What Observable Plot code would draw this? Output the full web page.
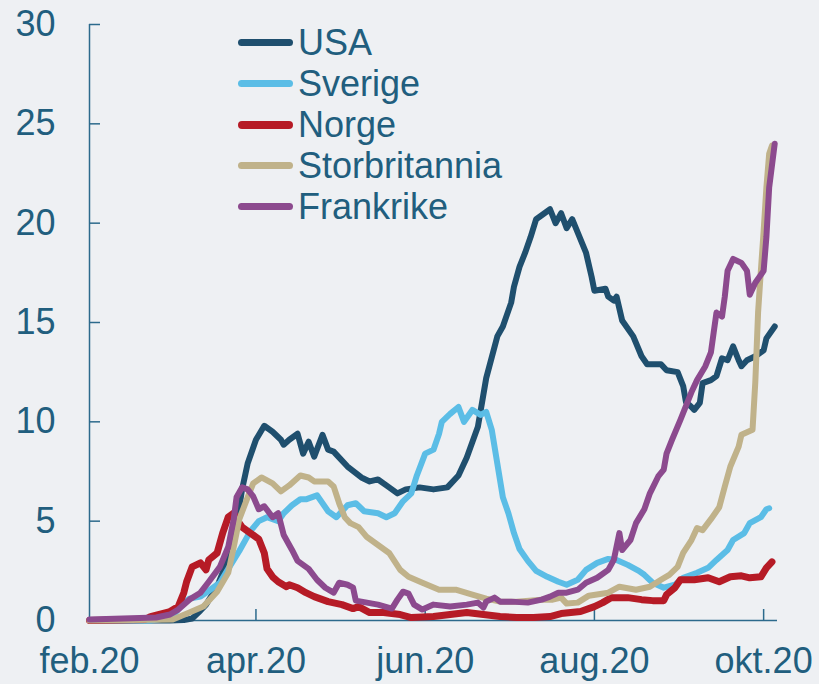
<!DOCTYPE html>
<html>
<head>
<meta charset="utf-8">
<script src="https://cdn.jsdelivr.net/npm/d3@7"></script>
<script src="https://cdn.jsdelivr.net/npm/@observablehq/plot@0.6"></script>
<style>
  html, body { margin: 0; padding: 0; background: #eef0f3; }
  #wrap { position: relative; width: 819px; height: 684px; font-family: "Liberation Sans", Arial, sans-serif; }
  #legend { position: absolute; left: 238px; top: 22px; }
  .row { display: flex; align-items: center; height: 41px; }
  .sw { width: 55px; height: 7px; border-radius: 4px; margin-right: 5px; }
  .lab { font-size: 36px; color: #215e7e; line-height: 41px; white-space: nowrap; }
</style>
</head>
<body>
<div id="wrap"><div id="chart"></div><div id="legend"></div></div>
<script>
// days since 1 Feb 2020, value
const usa = [[0,0],[29,0],[34,0.02],[37,0.1],[40,0.5],[42,0.8],[46,1.7],[50,3.1],[53,4.8],[55,6.6],[57,7.9],[60,9.1],[63,9.8],[66,9.5],[69,9.1],[70,8.85],[72,9.1],[75,9.4],[77,8.4],[79,9.0],[81,8.25],[84,9.35],[86,8.6],[88,8.5],[93,7.75],[98,7.2],[101,7.0],[104,7.1],[107,6.8],[111,6.4],[114,6.6],[119,6.7],[124,6.6],[129,6.7],[133,7.3],[136,8.2],[140,9.75],[143,12.2],[147,14.3],[149,14.8],[152,16.0],[153,16.8],[155,17.8],[157,18.5],[159,19.3],[161,20.2],[164,20.5],[166,20.7],[168,20.0],[170,20.5],[172,19.75],[174,20.2],[179,18.5],[181,17.3],[182,16.6],[186,16.7],[187,16.3],[189,16.1],[190,16.3],[192,15.1],[196,14.3],[199,13.3],[201,12.9],[206,12.9],[208,12.6],[212,12.5],[214,11.8],[215,11.0],[217,10.75],[218,10.6],[220,10.95],[221,11.95],[224,12.1],[226,12.3],[228,13.2],[230,13.1],[232,13.8],[234,13.1],[235,12.8],[237,13.1],[240,13.3],[243,13.6],[244,14.2],[247,14.8]];
const sverige = [[0,0],[22,0],[27,0.1],[31,0.4],[34,0.9],[36,1.1],[40,1.2],[43,1.5],[47,1.9],[50,2.6],[54,3.5],[58,4.5],[61,5.0],[64,5.2],[68,5.0],[70,5.4],[73,5.8],[76,6.1],[78,6.1],[82,6.3],[86,5.5],[89,5.2],[93,5.8],[96,5.9],[99,5.5],[104,5.4],[107,5.2],[110,5.4],[113,6.0],[116,6.4],[118,7.3],[121,8.4],[124,8.6],[126,9.4],[127,10.0],[130,10.4],[133,10.75],[135,10.0],[138,10.6],[141,10.35],[143,10.5],[145,9.6],[147,7.9],[149,6.2],[151,5.4],[153,4.4],[155,3.6],[158,3.0],[161,2.5],[165,2.2],[169,1.95],[172,1.8],[176,2.05],[179,2.55],[183,2.9],[187,3.1],[190,3.05],[194,2.8],[198,2.5],[200,2.3],[203,1.9],[207,1.65],[211,1.8],[214,2.15],[219,2.4],[223,2.65],[226,3.05],[230,3.55],[232,4.05],[236,4.4],[238,4.9],[242,5.2],[244,5.6],[245,5.65]];
const norge = [[0,0],[20,0.05],[22,0.2],[29,0.45],[32,0.7],[34,1.4],[35,1.95],[37,2.7],[40,2.9],[42,2.55],[43,3.05],[46,3.4],[48,4.4],[50,5.2],[52,5.4],[53,5.1],[55,4.7],[58,4.4],[61,4.1],[63,3.4],[64,2.6],[66,2.2],[68,1.95],[71,1.7],[72,1.8],[75,1.65],[78,1.4],[81,1.2],[86,0.95],[91,0.8],[95,0.6],[97,0.7],[101,0.4],[106,0.4],[112,0.3],[116,0.15],[124,0.2],[130,0.3],[136,0.4],[142,0.3],[148,0.2],[154,0.15],[160,0.15],[166,0.2],[170,0.35],[177,0.45],[182,0.7],[185,0.9],[188,1.15],[194,1.15],[199,1.05],[203,1.0],[207,1.0],[208,1.3],[211,1.65],[213,2.05],[218,2.05],[223,2.15],[227,1.95],[231,2.2],[235,2.25],[238,2.15],[242,2.2],[244,2.65],[246,2.95]];
const storbritannia = [[0,0],[30,0.05],[36,0.4],[41,0.7],[46,1.45],[50,2.4],[52,3.7],[54,5.1],[57,6.2],[59,6.9],[62,7.2],[66,6.9],[69,6.5],[72,6.8],[76,7.3],[79,7.2],[81,7.0],[86,7.0],[88,6.75],[90,5.9],[92,5.2],[94,4.9],[97,4.7],[100,4.2],[105,3.7],[108,3.4],[112,2.55],[115,2.2],[120,1.9],[126,1.55],[132,1.55],[138,1.3],[143,1.1],[148,0.95],[154,0.95],[163,1.05],[167,1.05],[170,1.15],[172,0.85],[176,0.9],[180,1.25],[187,1.4],[191,1.7],[197,1.55],[202,1.7],[206,2.05],[209,2.3],[212,2.7],[214,3.4],[217,4.05],[219,4.65],[221,4.55],[224,5.1],[227,5.7],[229,6.75],[231,7.75],[234,8.75],[235,9.35],[239,9.6],[240,12.0],[241,15.5],[242,17.6],[243,19.6],[244,21.8],[245,23.5],[246,23.9]];
const frankrike = [[0,0.05],[24,0.15],[29,0.3],[32,0.55],[36,1.05],[40,1.4],[43,1.95],[47,2.7],[50,3.7],[52,5.1],[53,6.2],[55,6.7],[57,6.6],[59,6.25],[61,5.6],[63,5.75],[66,5.2],[68,5.4],[70,4.3],[73,3.55],[75,3.0],[77,2.8],[79,2.6],[82,2.05],[85,1.65],[88,1.4],[90,1.9],[93,1.8],[95,1.65],[96,1.0],[100,0.9],[104,0.8],[109,0.6],[111,1.05],[113,1.45],[115,1.35],[117,0.8],[120,0.55],[124,0.8],[130,0.7],[136,0.8],[140,0.9],[142,0.65],[143,0.95],[146,1.15],[148,0.95],[152,0.95],[158,0.9],[163,1.05],[166,1.2],[169,1.4],[172,1.4],[176,1.55],[179,1.9],[183,2.15],[187,2.55],[189,3.05],[191,4.4],[192,3.55],[195,4.05],[197,4.9],[200,5.6],[202,6.4],[205,7.25],[207,7.6],[208,8.4],[210,9.1],[213,10.1],[217,11.5],[219,12.1],[222,12.8],[224,13.5],[225,14.5],[226,15.5],[228,15.3],[229,16.3],[230,17.6],[232,18.2],[235,18.0],[237,17.6],[238,16.4],[240,17.0],[243,17.6],[244,19.3],[245,21.8],[247,24.0]];

const seriesNames = ["USA", "Sverige", "Norge", "Storbritannia", "Frankrike"];
const seriesColors = ["#1f4f6e", "#5bbde6", "#b61b26", "#c0b28a", "#8c4a8e"];
const seriesData = [usa, sverige, norge, storbritannia, frankrike];
const seriesWidths = [6, 6, 7, 6, 6];

const yTicks = [0, 5, 10, 15, 20, 25, 30];
const xTickDates = ["2020-02-01", "2020-04-01", "2020-06-01", "2020-08-01", "2020-10-01"];
const xTickLabels = ["feb.20", "apr.20", "jun.20", "aug.20", "okt.20"];

const startDate = new Date("2020-02-01");
const endDate = new Date("2020-10-06");
const DAY = 864e5;

const W = 819, H = 684, mL = 89, mR = 42, mT = 24, mB = 64;
const plotW = W - mL - mR, plotH = H - mT - mB;
const axisColor = "#2c6a8c";
const textColor = "#215e7e";

const xTicks = xTickDates.map(d => new Date(d));
const labelByTime = new Map(xTicks.map((d, i) => [+d, xTickLabels[i]]));

const lineMarks = seriesData.map((pts, i) =>
  Plot.line(pts.map(([d, v]) => ({date: new Date(+startDate + d * DAY), value: v})), {
    x: "date", y: "value", stroke: seriesColors[i], strokeWidth: seriesWidths[i],
    strokeLinejoin: "round", strokeLinecap: "round"
  })
);

const chart = Plot.plot({
  width: W, height: H,
  marginLeft: mL, marginRight: mR, marginTop: mT, marginBottom: mB,
  style: {background: "#eef0f3", fontFamily: "'Liberation Sans', Arial, sans-serif", fontSize: "36px", color: textColor, overflow: "visible"},
  x: {type: "utc", domain: [startDate, endDate]},
  y: {domain: [0, 30]},
  marks: [
    Plot.ruleX([startDate], {stroke: axisColor, strokeWidth: 1.5}),
    Plot.ruleY([0], {stroke: axisColor, strokeWidth: 1.5}),
    Plot.ruleY(yTicks.slice(1), {stroke: axisColor, strokeWidth: 1.5, insetRight: plotW - 11}),
    Plot.ruleX(xTicks.slice(1), {stroke: axisColor, strokeWidth: 1.5, insetTop: plotH - 11}),
    Plot.axisY({ticks: yTicks, tickSize: 0, tickPadding: 34, fontSize: 36, fill: textColor, label: null}),
    Plot.axisX({ticks: xTicks, tickSize: 0, tickPadding: 27, fontSize: 36, fill: textColor, label: null, tickFormat: d => labelByTime.get(+d)}),
    ...lineMarks
  ]
});
document.getElementById("chart").appendChild(chart);

const legend = document.getElementById("legend");
seriesNames.forEach((name, i) => {
  const row = document.createElement("div");
  row.className = "row";
  const sw = document.createElement("div");
  sw.className = "sw";
  sw.style.background = seriesColors[i];
  if (i === 2) sw.style.height = "8px";
  const lab = document.createElement("div");
  lab.className = "lab";
  lab.textContent = name;
  row.appendChild(sw);
  row.appendChild(lab);
  legend.appendChild(row);
});
</script>
</body>
</html>
